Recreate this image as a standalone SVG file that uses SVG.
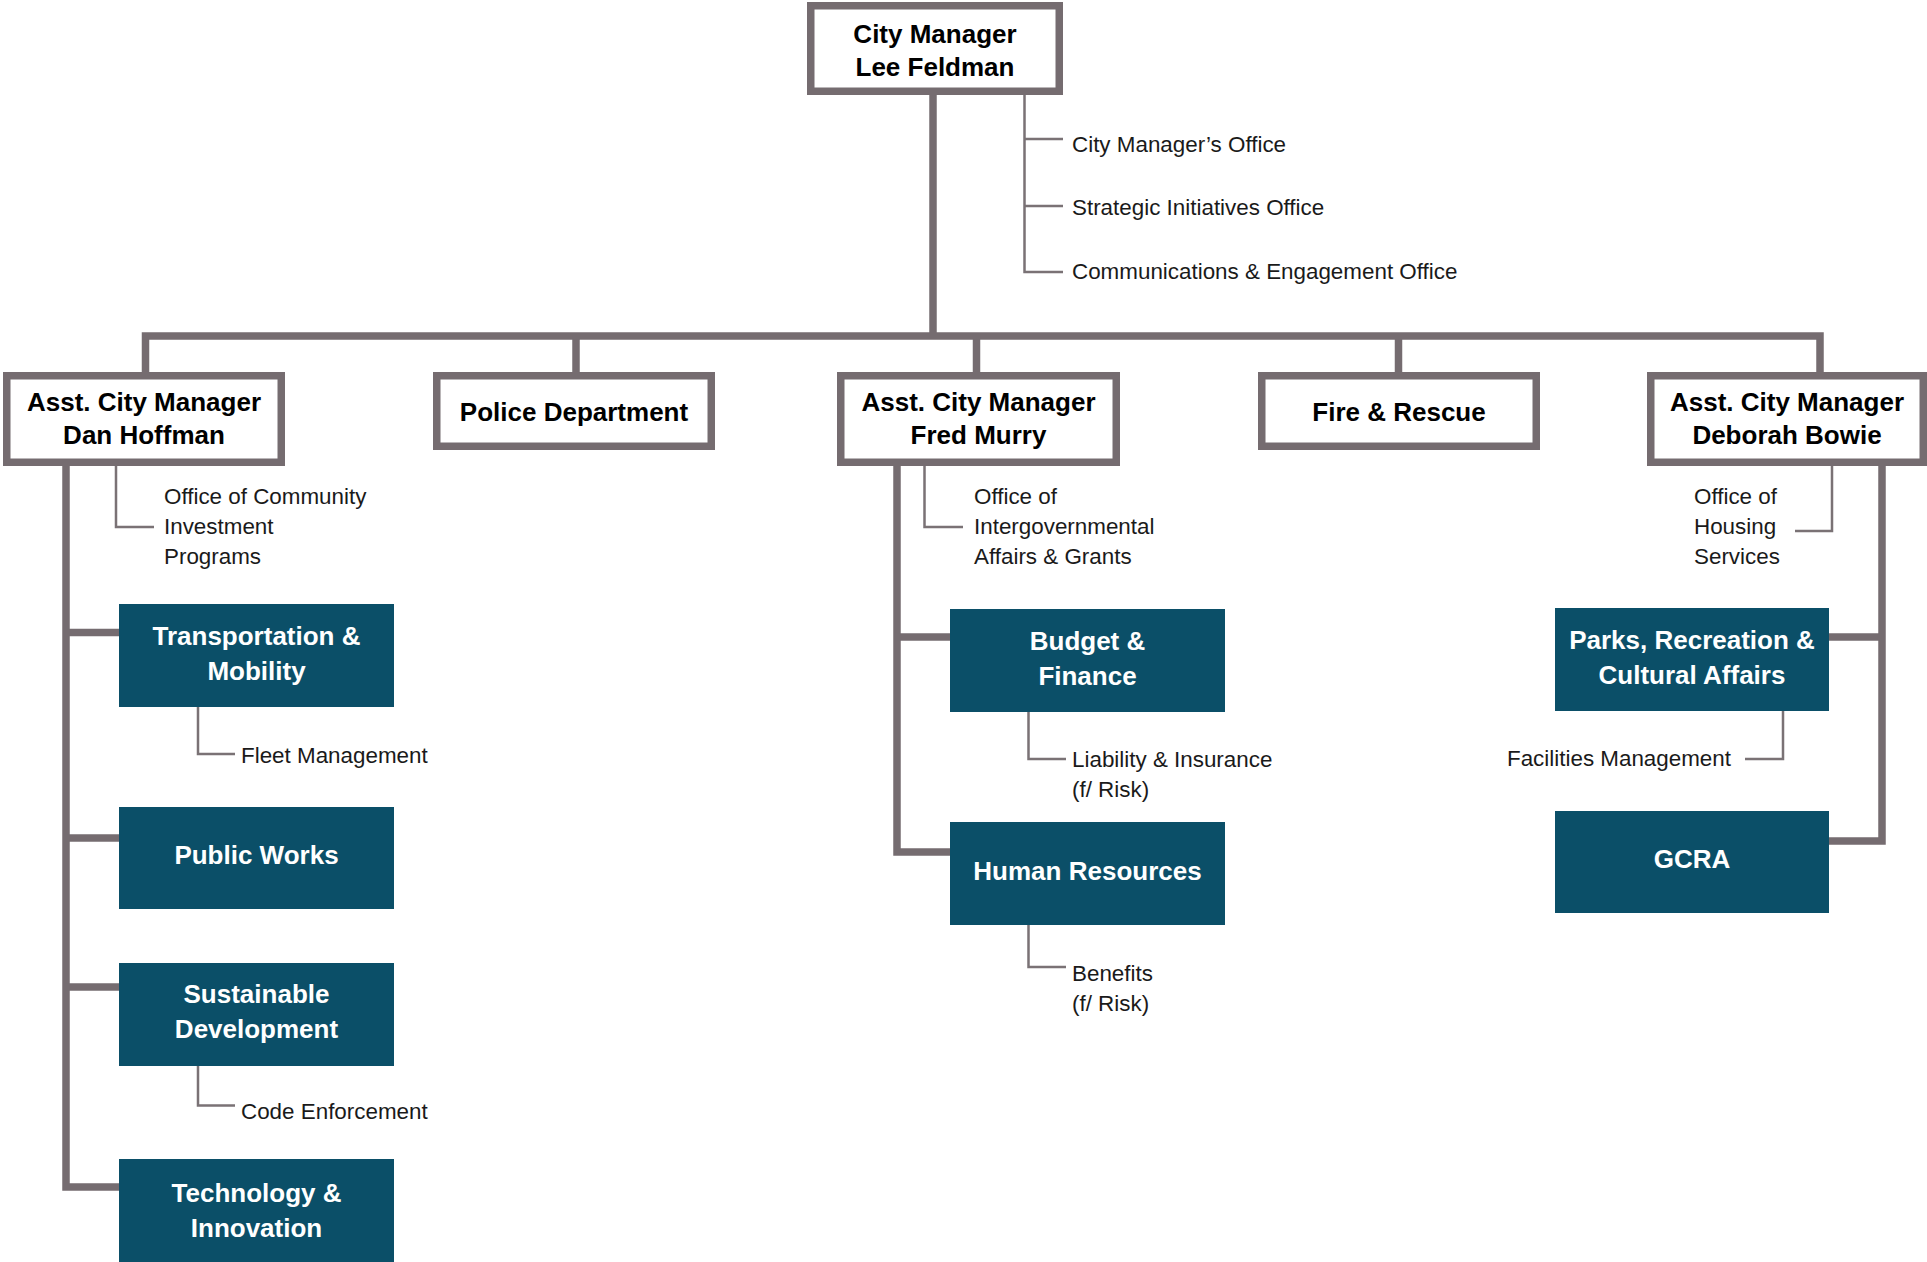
<svg xmlns="http://www.w3.org/2000/svg" width="1927" height="1262" viewBox="0 0 1927 1262">
<style>
.hdr{fill:#ffffff;stroke:#756c70;stroke-width:7.5}
.dept{fill:#0b4f68}
.thick{fill:none;stroke:#756c70;stroke-width:7.5;stroke-linejoin:miter}
.thin{fill:none;stroke:#7a7275;stroke-width:2.5}
.ht{font-family:"Liberation Sans",Arial,sans-serif;font-weight:bold;font-size:26px;fill:#000000;text-anchor:middle}
.dt{font-family:"Liberation Sans",Arial,sans-serif;font-weight:bold;font-size:26px;fill:#ffffff;text-anchor:middle}
.st{font-family:"Liberation Sans",Arial,sans-serif;font-size:22.4px;fill:#1a1a1a}
</style>
<rect width="1927" height="1262" fill="#ffffff"/>
<g id="connectors">
<path class="thick" d="M933 95 V336"/>
<path class="thick" d="M145.5 372 V336 H1820 V372"/>
<path class="thick" d="M576 336 V372"/>
<path class="thick" d="M976.5 336 V372"/>
<path class="thick" d="M1398.5 336 V372"/>
<path class="thick" d="M66 464 V1187 H119"/>
<path class="thick" d="M66 632.5 H119"/>
<path class="thick" d="M66 838 H119"/>
<path class="thick" d="M66 987 H119"/>
<path class="thick" d="M897 464 V852 H950"/>
<path class="thick" d="M897 637 H950"/>
<path class="thick" d="M1882 464 V841 H1829"/>
<path class="thick" d="M1882 637 H1829"/>
<path class="thin" d="M1024.5 95 V272 H1063"/>
<path class="thin" d="M1024.5 139 H1063"/>
<path class="thin" d="M1024.5 206 H1063"/>
<path class="thin" d="M116 466 V527 H154"/>
<path class="thin" d="M198 707 V754 H235"/>
<path class="thin" d="M198 1066 V1105.5 H235"/>
<path class="thin" d="M924.5 466 V527 H963"/>
<path class="thin" d="M1028.5 712 V759 H1066"/>
<path class="thin" d="M1028.5 925 V967 H1066"/>
<path class="thin" d="M1832 466 V531 H1795"/>
<path class="thin" d="M1783 711 V759 H1745"/>
</g>
<g id="city-manager">
<rect class="hdr" x="810.75" y="5.75" width="248.5" height="85.5"/>
<text class="ht" x="935" y="43">City Manager</text>
<text class="ht" x="935" y="76">Lee Feldman</text>
</g>
<g id="cm-offices">
<text class="st" x="1072" y="152">City Manager’s Office</text>
<text class="st" x="1072" y="215">Strategic Initiatives Office</text>
<text class="st" x="1072" y="279">Communications &amp; Engagement Office</text>
</g>
<g id="acm-hoffman">
<rect class="hdr" x="6.75" y="375.75" width="274.5" height="86.5"/>
<text class="ht" x="144" y="411">Asst. City Manager</text>
<text class="ht" x="144" y="444">Dan Hoffman</text>
</g>
<g id="police">
<rect class="hdr" x="436.75" y="375.75" width="274.5" height="70.5"/>
<text class="ht" x="574" y="421">Police Department</text>
</g>
<g id="acm-murry">
<rect class="hdr" x="840.75" y="375.75" width="275.5" height="86.5"/>
<text class="ht" x="978.5" y="411">Asst. City Manager</text>
<text class="ht" x="978.5" y="444">Fred Murry</text>
</g>
<g id="fire">
<rect class="hdr" x="1261.75" y="375.75" width="274.5" height="70.5"/>
<text class="ht" x="1399" y="421">Fire &amp; Rescue</text>
</g>
<g id="acm-bowie">
<rect class="hdr" x="1650.75" y="375.75" width="272.5" height="86.5"/>
<text class="ht" x="1787" y="411">Asst. City Manager</text>
<text class="ht" x="1787" y="444">Deborah Bowie</text>
</g>
<g id="community-investment">
<text class="st" x="164" y="504">Office of Community</text>
<text class="st" x="164" y="534">Investment</text>
<text class="st" x="164" y="564">Programs</text>
</g>
<g id="transportation">
<rect class="dept" x="119" y="604" width="275" height="103"/>
<text class="dt" x="256.5" y="645">Transportation &amp;</text>
<text class="dt" x="256.5" y="680">Mobility</text>
</g>
<g id="fleet">
<text class="st" x="241" y="763">Fleet Management</text>
</g>
<g id="public-works">
<rect class="dept" x="119" y="807" width="275" height="102"/>
<text class="dt" x="256.5" y="864">Public Works</text>
</g>
<g id="sustainable">
<rect class="dept" x="119" y="963" width="275" height="103"/>
<text class="dt" x="256.5" y="1003">Sustainable</text>
<text class="dt" x="256.5" y="1038">Development</text>
</g>
<g id="code">
<text class="st" x="241" y="1119">Code Enforcement</text>
</g>
<g id="technology">
<rect class="dept" x="119" y="1159" width="275" height="103"/>
<text class="dt" x="256.5" y="1202">Technology &amp;</text>
<text class="dt" x="256.5" y="1237">Innovation</text>
</g>
<g id="intergov">
<text class="st" x="974" y="504">Office of</text>
<text class="st" x="974" y="534">Intergovernmental</text>
<text class="st" x="974" y="564">Affairs &amp; Grants</text>
</g>
<g id="budget">
<rect class="dept" x="950" y="609" width="275" height="103"/>
<text class="dt" x="1087.5" y="650">Budget &amp;</text>
<text class="dt" x="1087.5" y="685">Finance</text>
</g>
<g id="liability">
<text class="st" x="1072" y="767">Liability &amp; Insurance</text>
<text class="st" x="1072" y="797">(f/ Risk)</text>
</g>
<g id="hr">
<rect class="dept" x="950" y="822" width="275" height="103"/>
<text class="dt" x="1087.5" y="880">Human Resources</text>
</g>
<g id="benefits">
<text class="st" x="1072" y="981">Benefits</text>
<text class="st" x="1072" y="1011">(f/ Risk)</text>
</g>
<g id="housing">
<text class="st" x="1694" y="504">Office of</text>
<text class="st" x="1694" y="534">Housing</text>
<text class="st" x="1694" y="564">Services</text>
</g>
<g id="parks">
<rect class="dept" x="1555" y="608" width="274" height="103"/>
<text class="dt" x="1692" y="649">Parks, Recreation &amp;</text>
<text class="dt" x="1692" y="684">Cultural Affairs</text>
</g>
<g id="facilities">
<text class="st" x="1731" y="766" text-anchor="end">Facilities Management</text>
</g>
<g id="gcra">
<rect class="dept" x="1555" y="811" width="274" height="102"/>
<text class="dt" x="1692" y="868">GCRA</text>
</g>
</svg>
